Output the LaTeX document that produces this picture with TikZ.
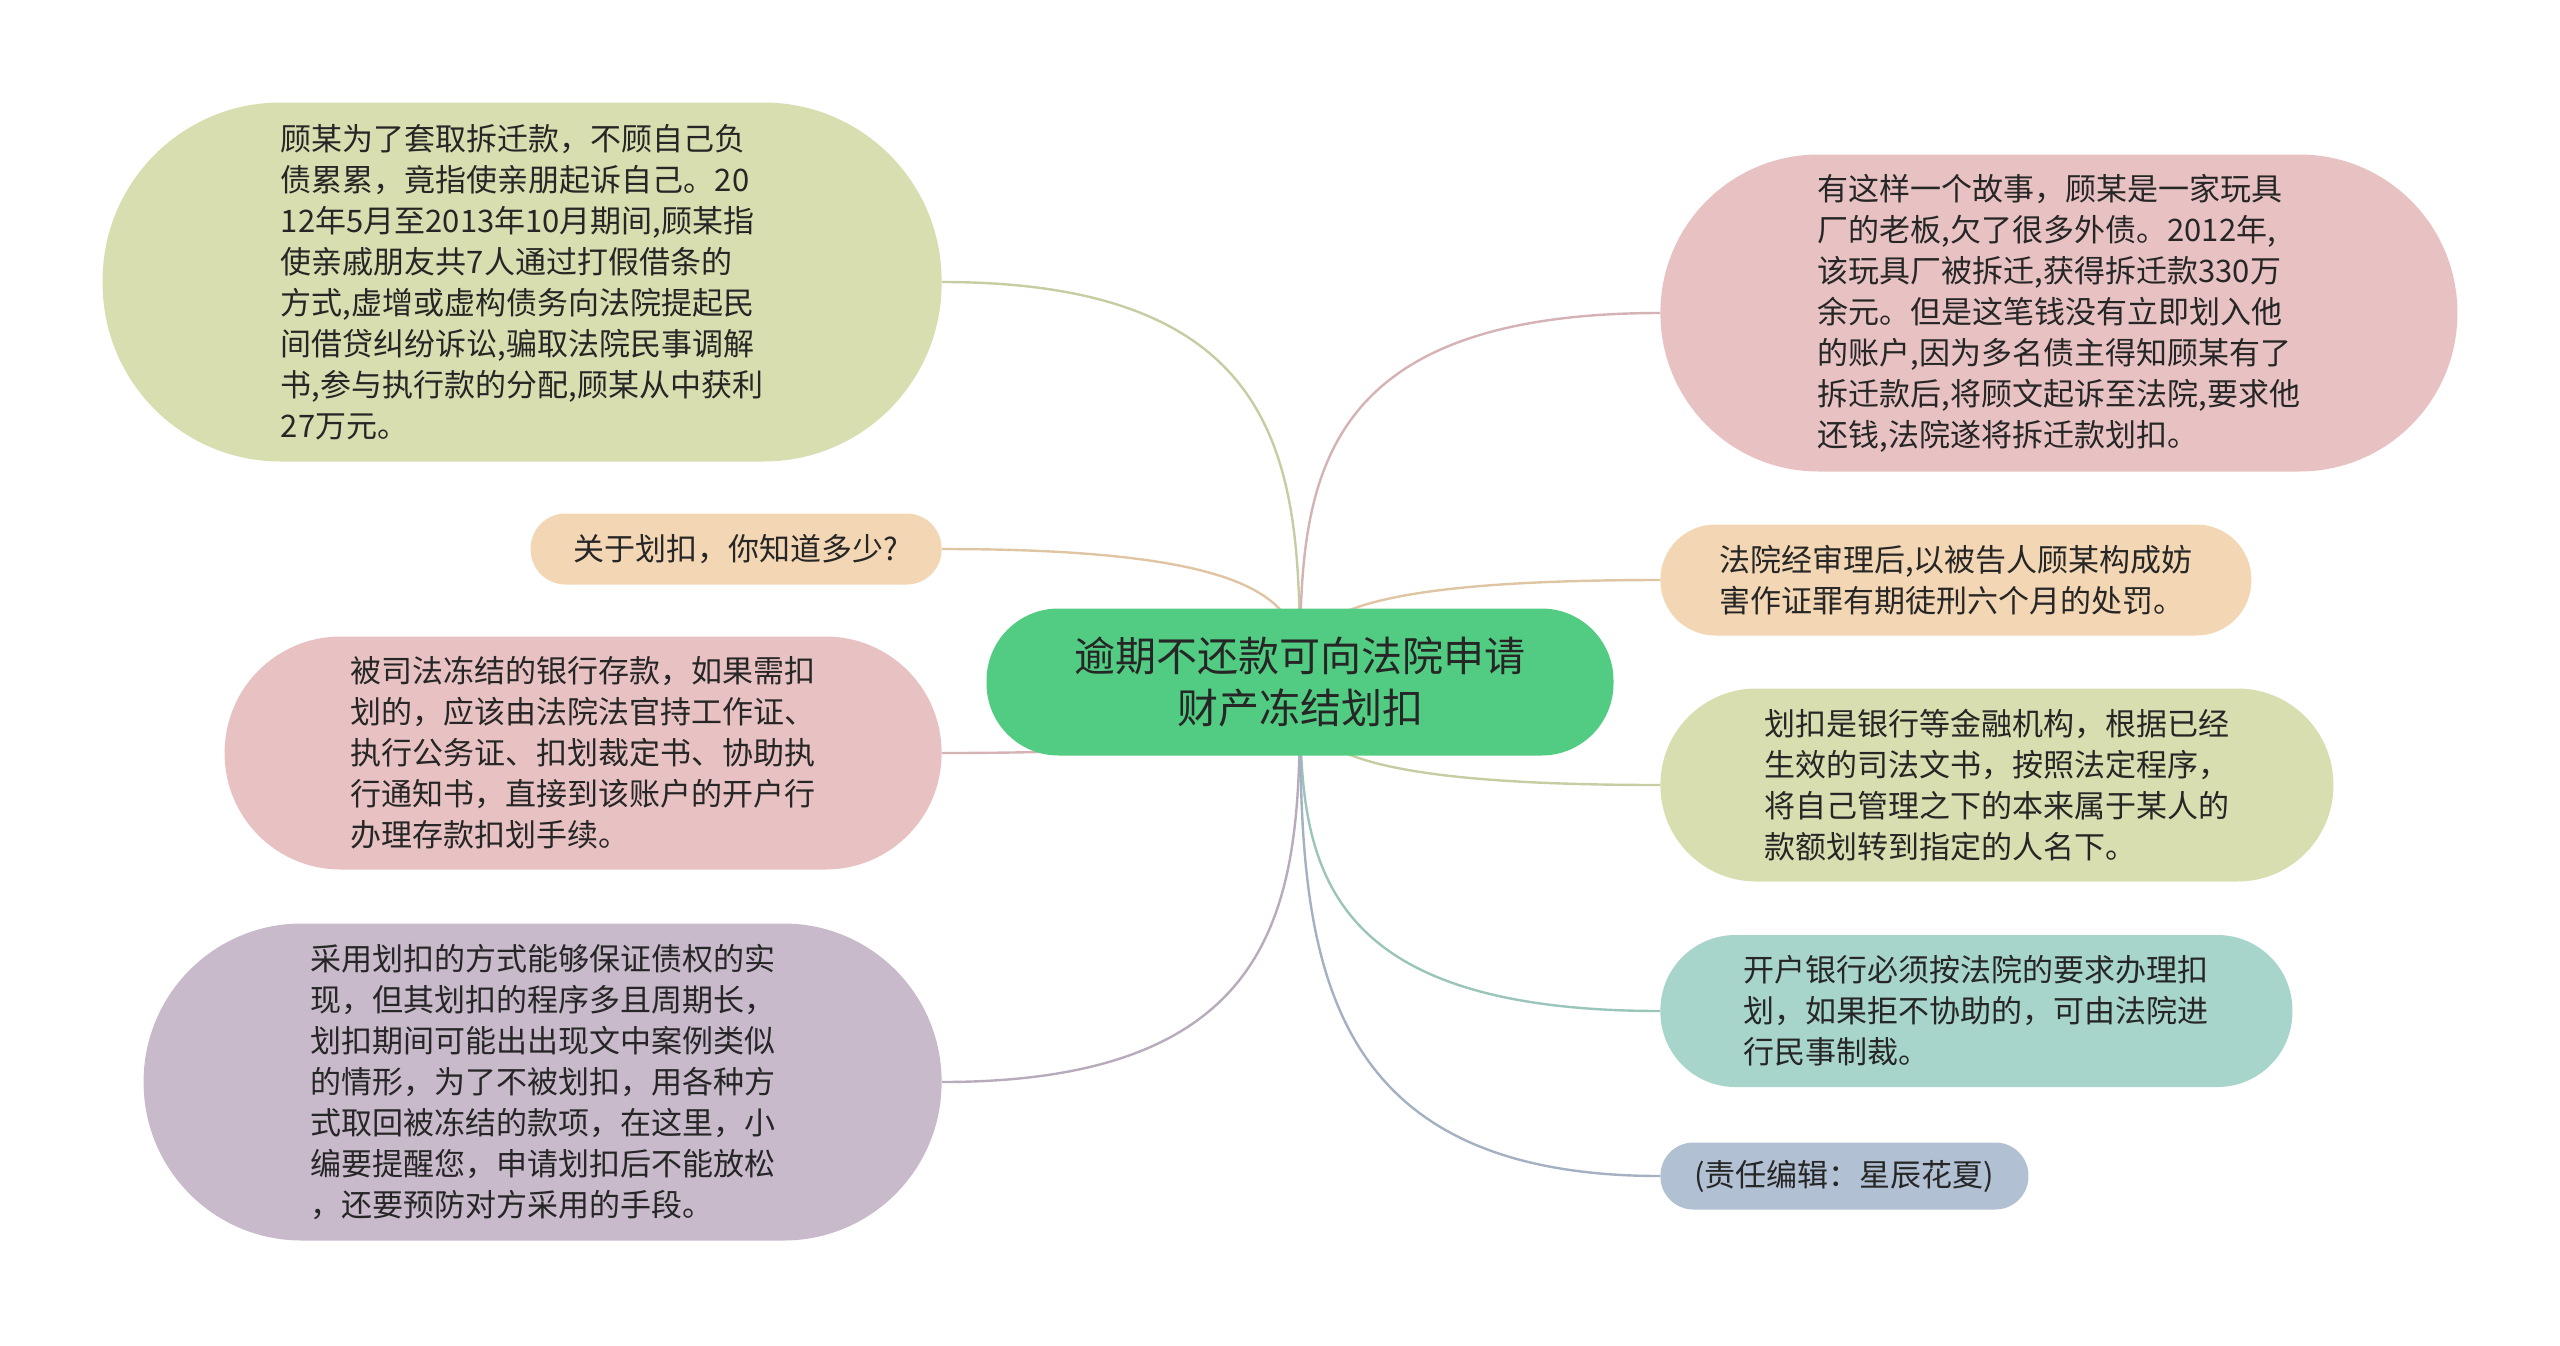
\documentclass[tikz,border=0pt]{standalone}
\usepackage{fontspec}
\usepackage{tikz}
\usetikzlibrary{positioning, backgrounds, calc}
\newfontfamily\cjkfont{Noto Sans CJK SC}
\definecolor{rootGreen}{RGB}{82,204,130}
\definecolor{leafOlive}{RGB}{217,222,176}
\definecolor{leafPink}{RGB}{232,194,195}
\definecolor{leafPeach}{RGB}{243,214,179}
\definecolor{leafPurple}{RGB}{200,186,203}
\definecolor{leafTeal}{RGB}{168,213,203}
\definecolor{leafSlate}{RGB}{177,192,211}
\definecolor{darkText}{RGB}{38,38,38}
\tikzset{
    root/.style={rectangle, rounded corners=36pt, fill=rootGreen, align=center, inner sep=0pt,
                 minimum width=313.5pt, minimum height=73.5pt, text=darkText,
                 font=\cjkfont\fontsize{20.5}{26}\selectfont},
    leaf/.style={rectangle, fill=#1, align=left, inner sep=0pt, text=darkText,
                 font=\cjkfont\fontsize{15.5}{20.5}\selectfont},
    leaf/.default=leafOlive,
    link/.style={line width=1.2pt, draw=#1!92!black,
                 to path={.. controls ($(\tikztostart)!0.5!(\tikztostart |- \tikztotarget)$)
                          and (\tikztostart |- \tikztotarget) .. (\tikztotarget)}}
}
\begin{document}
\begin{tikzpicture}[x=0.5pt, y=-0.5pt]
    \useasboundingbox (0,0) rectangle (2560,1345);

    % Centre
    \node[root] (root) at (1300,682) {逾期不还款可向法院申请\\财产冻结划扣};

    % Left branches
    \node[leaf=leafOlive, anchor=east, minimum width=419.5pt, minimum height=179.5pt, rounded corners=89pt] (story) at (942,282)
        {顾某为了套取拆迁款，不顾自己负\\债累累，竟指使亲朋起诉自己。20\\12年5月至2013年10月期间,顾某指\\使亲戚朋友共7人通过打假借条的\\方式,虚增或虚构债务向法院提起民\\间借贷纠纷诉讼,骗取法院民事调解\\书,参与执行款的分配,顾某从中获利\\27万元。};
    \node[leaf=leafPeach, anchor=east, minimum width=205.5pt, minimum height=35.5pt, rounded corners=17.5pt] (quiz) at (942,549)
        {关于划扣，你知道多少?};
    \node[leaf=leafPink, anchor=east, minimum width=358.5pt, minimum height=116.5pt, rounded corners=58pt] (deposit) at (942,753)
        {被司法冻结的银行存款，如果需扣\\划的，应该由法院法官持工作证、\\执行公务证、扣划裁定书、协助执\\行通知书，直接到该账户的开户行\\办理存款扣划手续。};
    \node[leaf=leafPurple, anchor=east, minimum width=399pt, minimum height=158.5pt, rounded corners=79pt] (caution) at (942,1082)
        {采用划扣的方式能够保证债权的实\\现，但其划扣的程序多且周期长，\\划扣期间可能出出现文中案例类似\\的情形，为了不被划扣，用各种方\\式取回被冻结的款项，在这里，小\\编要提醒您，申请划扣后不能放松\\，还要预防对方采用的手段。};

    % Right branches
    \node[leaf=leafPink, anchor=west, minimum width=398.5pt, minimum height=158.5pt, rounded corners=79pt] (story2) at (1660,313)
        {有这样一个故事，顾某是一家玩具\\厂的老板,欠了很多外债。2012年,\\该玩具厂被拆迁,获得拆迁款330万\\余元。但是这笔钱没有立即划入他\\的账户,因为多名债主得知顾某有了\\拆迁款后,将顾文起诉至法院,要求他\\还钱,法院遂将拆迁款划扣。};
    \node[leaf=leafPeach, anchor=west, minimum width=295.5pt, minimum height=55.5pt, rounded corners=27.5pt] (verdict) at (1660,580)
        {法院经审理后,以被告人顾某构成妨\\害作证罪有期徒刑六个月的处罚。};
    \node[leaf=leafOlive, anchor=west, minimum width=336.5pt, minimum height=96.5pt, rounded corners=48pt] (definition) at (1660,785)
        {划扣是银行等金融机构，根据已经\\生效的司法文书，按照法定程序，\\将自己管理之下的本来属于某人的\\款额划转到指定的人名下。};
    \node[leaf=leafTeal, anchor=west, minimum width=316pt, minimum height=76pt, rounded corners=37.5pt] (bankduty) at (1660,1011)
        {开户银行必须按法院的要求办理扣\\划，如果拒不协助的，可由法院进\\行民事制裁。};
    \node[leaf=leafSlate, anchor=west, minimum width=184pt, minimum height=33.5pt, rounded corners=16.5pt] (editor) at (1660,1176)
        {(责任编辑：星辰花夏)};

    % Branch lines
    \begin{scope}[on background layer]
        \draw[link=leafOlive] (root.center) to (story.east);
        \draw[link=leafPeach] (root.center) to (quiz.east);
        \draw[link=leafPink] (root.center) to (deposit.east);
        \draw[link=leafPurple] (root.center) to (caution.east);
        \draw[link=leafPink] (root.center) to (story2.west);
        \draw[link=leafPeach] (root.center) to (verdict.west);
        \draw[link=leafOlive] (root.center) to (definition.west);
        \draw[link=leafTeal] (root.center) to (bankduty.west);
        \draw[link=leafSlate] (root.center) to (editor.west);
    \end{scope}
\end{tikzpicture}
\end{document}
